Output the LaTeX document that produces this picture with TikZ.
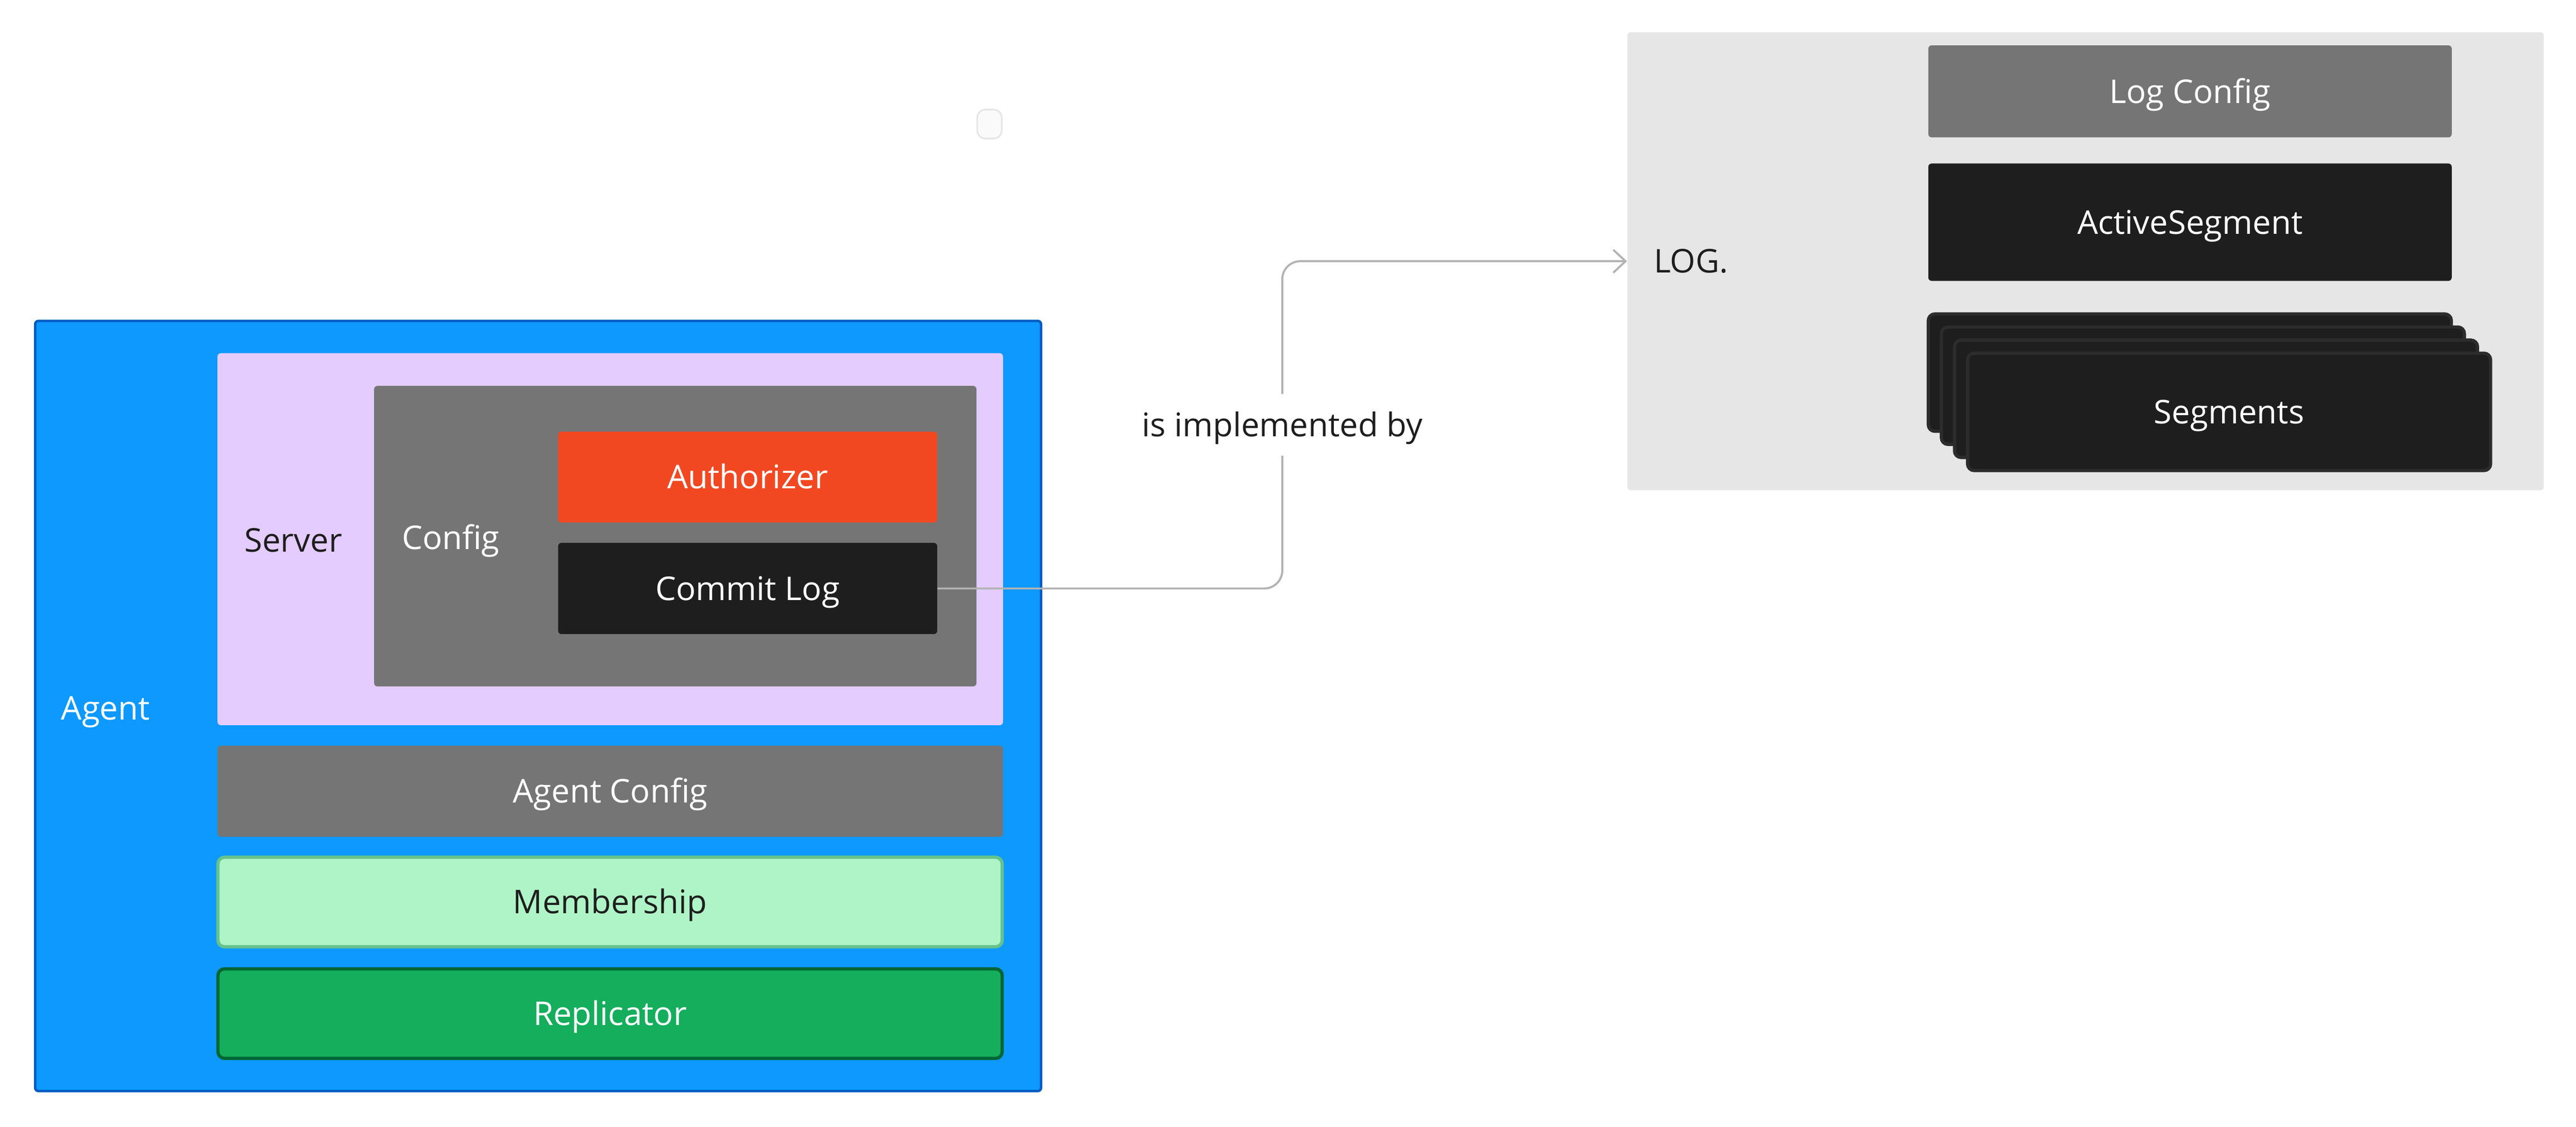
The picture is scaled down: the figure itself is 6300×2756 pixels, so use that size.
\documentclass[tikz,border=0pt]{standalone}
\usepackage{fontspec}
\setmainfont{Open Sans}
\usetikzlibrary{arrows.meta}
\definecolor{agentblue}{HTML}{0D99FF}
\definecolor{agentedge}{HTML}{005CC2}
\definecolor{serverlav}{HTML}{E4CCFF}
\definecolor{cfggray}{HTML}{757575}
\definecolor{authred}{HTML}{F24822}
\definecolor{darkbox}{HTML}{1E1E1E}
\definecolor{darkedge}{HTML}{2C2C2C}
\definecolor{memfill}{HTML}{AFF4C6}
\definecolor{memedge}{HTML}{66C28D}
\definecolor{repfill}{HTML}{14AE5C}
\definecolor{repedge}{HTML}{006634}
\definecolor{logfill}{HTML}{E6E6E6}
\definecolor{conngray}{HTML}{B3B3B3}
\definecolor{darktext}{HTML}{1E1E1E}
\definecolor{tinyfill}{HTML}{FAFAFA}
\begin{document}
\begin{tikzpicture}[x=0.25pt,y=-0.25pt,
  tfont/.style={font=\fontsize{20pt}{24pt}\selectfont, text height=16pt, text depth=1.7pt},
  box/.style={rectangle, inner sep=0pt, rounded corners=2pt, tfont},
  sbox/.style={box, rounded corners=4pt, line width=2pt},
  txt/.style={inner sep=0pt, tfont},
  card/.style={sbox, fill=darkbox, draw=darkedge, minimum width=319.75pt, minimum height=71.75pt},
  conn/.style={draw=conngray, line width=1.25pt, rounded corners=11pt,
    -{Straight Barb[length=7.5pt,width=14pt]}},
  lbl/.style={txt, fill=white, inner xsep=8pt, inner ysep=10pt, text=darktext}
]
\useasboundingbox (0,0) rectangle (6300,2756);
\fill[white] (0,0) rectangle (6300,2756);

% tiny square
\node[box, rounded corners=5pt, fill=tinyfill, draw=logfill, line width=1pt,
  minimum width=15pt, minimum height=14.75pt] (tiny) at (2420,303.5) {};

% Agent
\node[box, fill=agentblue, draw=agentedge, line width=1.5pt,
  minimum width=615pt, minimum height=471pt] (agent) at (1316,1727) {};
\node[txt, text=white, anchor=west] (agentlbl) at (149,1732) {Agent};

% Server
\node[box, fill=serverlav, minimum width=480.25pt, minimum height=227.5pt] (server) at (1492.5,1319) {};
\node[txt, text=darktext, anchor=west] (serverlbl) at (597,1321) {Server};

% Config
\node[box, fill=cfggray, minimum width=368.25pt, minimum height=183.75pt] (config) at (1651.5,1311.5) {};
\node[txt, text=white, anchor=west] (configlbl) at (982,1315) {Config};

% Authorizer / Commit Log
\node[box, fill=authred, text=white, minimum width=231.75pt, minimum height=55.5pt] (auth) at (1828.5,1167) {Authorizer};
\node[box, fill=darkbox, text=white, minimum width=231.75pt, minimum height=55.75pt] (commit) at (1828.5,1439.5) {Commit Log};

% Agent Config, Membership, Replicator
\node[box, fill=cfggray, text=white, minimum width=480.25pt, minimum height=55.75pt] (agentcfg) at (1492.5,1935.5) {Agent Config};
\node[sbox, fill=memfill, draw=memedge, text=darktext, minimum width=479.5pt, minimum height=54.75pt] (member) at (1492,2206.5) {Membership};
\node[sbox, fill=repfill, draw=repedge, text=white, minimum width=479.5pt, minimum height=54.75pt] (repl) at (1492,2479.5) {Replicator};

% LOG
\node[box, fill=logfill, minimum width=560.25pt, minimum height=280pt] (log) at (5100.5,639) {};
\node[txt, text=darktext, anchor=west] (loglbl) at (4044,639) {LOG.};
\node[box, fill=cfggray, text=white, minimum width=320pt, minimum height=56.25pt] (logcfg) at (5356,223.5) {Log Config};
\node[box, fill=darkbox, text=white, minimum width=320pt, minimum height=71.75pt] (active) at (5356,543.5) {ActiveSegment};

% Segments stack
\node[card] (seg1) at (5355.5,911.5) {};
\node[card] (seg2) at (5387.5,943.5) {};
\node[card] (seg3) at (5419.5,975.5) {};
\node[card, text=white] (seg4) at (5451.5,1007.5) {Segments};

% connector
\draw[conn] (commit.east) -- (3136,1439.5) -- node[lbl] (implby) {is implemented by} (3136,639) -- (log.west);
\end{tikzpicture}
\end{document}
